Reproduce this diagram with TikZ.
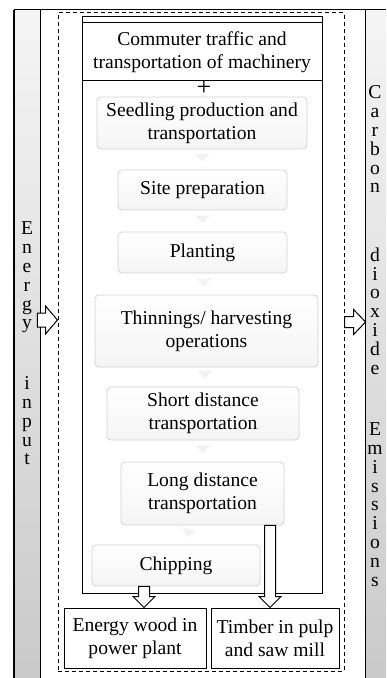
\documentclass[tikz,border=0pt]{standalone}
\usepackage{fontspec}
\setmainfont{Liberation Serif}
\usetikzlibrary{arrows.meta,calc}
\newcommand{\boxsiz}{\fontsize{9.8}{11.5}\selectfont}
\newcommand{\barsiz}{\fontsize{9.8}{9.4}\selectfont}
\newcommand{\hollowDown}[3]{% x, start, tip
    \draw[fill=white,line width=0.5pt] let \p1=(#2), \p2=(#3), \p3=(#1,0) in
        (\x3-2.75pt,\y1) -- (\x3+2.75pt,\y1) -- (\x3+2.75pt,\y2+5.5pt)
        -- (\x3+5.5pt,\y2+5.5pt) -- (\x3,\y2) -- (\x3-5.5pt,\y2+5.5pt)
        -- (\x3-2.75pt,\y2+5.5pt) -- cycle;
}
\newcommand{\hollowRight}[5]{% y, start, tip, stem half, head half
    \draw[fill=white,line width=0.5pt] let \p1=(#2), \p2=(#3), \p3=(0,#1) in
        (\x1,\y3-#4) -- (\x2-6pt,\y3-#4) -- (\x2-6pt,\y3-#5) -- (\x2,\y3)
        -- (\x2-6pt,\y3+#5) -- (\x2-6pt,\y3+#4) -- (\x1,\y3+#4) -- cycle;
}

\begin{document}
\begin{tikzpicture}[x=0.5pt,y=-0.5pt,
    stepBox/.style={draw=gray!35, rounded corners=2pt, top color=white, bottom color=gray!8,
        align=center, inner sep=0pt, font=\boxsiz},
    plainBox/.style={draw, line width=0.5pt, align=center, inner sep=0pt, font=\boxsiz},
    sideBar/.style={inner sep=0pt, top color=gray!8, bottom color=gray!42},
    barWord/.style={align=center, inner sep=0pt, font=\barsiz},
    flowArrow/.style={draw=gray!10, line width=3pt, -{Triangle[width=7pt,length=4pt]},
        shorten <=4pt, shorten >=4pt}]

    \useasboundingbox (0,0) rectangle (386,678);

    % side bars
    \node[sideBar, minimum width=13pt, minimum height=334pt] (energyBar) at (27,344) {};
    \node[sideBar, minimum width=10pt, minimum height=334pt] (co2Bar) at (376,344) {};
    \draw[line width=0.5pt] (energyBar.north west) -- (co2Bar.north east);
    \draw[line width=1pt] (energyBar.north west) -- (energyBar.south west);
    \draw[line width=0.5pt] (energyBar.north east) -- (energyBar.south east);
    \draw[line width=0.5pt] (co2Bar.north west) -- (co2Bar.south west);

    \node[barWord] (energyWord) at (27,277.5) {E\\n\\e\\r\\g\\y};
    \node[barWord] (inputWord) at (27,421) {i\\n\\p\\u\\t};
    \node[barWord] (carbonWord) at (375,139.5) {C\\a\\r\\b\\o\\n};
    \node[barWord] (dioxideWord) at (375,311) {d\\i\\o\\x\\i\\d\\e};
    \node[barWord] (emissionsWord) at (375,504.5) {E\\m\\i\\s\\s\\i\\o\\n\\s};

    % frames
    \node[draw, dash pattern=on 2pt off 1.5pt, line width=0.5pt, minimum width=143pt,
        minimum height=329pt, inner sep=0pt] (systemFrame) at (201,342) {};
    \node[draw, line width=0.5pt, minimum width=120pt, minimum height=288pt,
        inner sep=0pt] (processFrame) at (202,305) {};

    \node[plainBox, minimum width=120pt, minimum height=29pt] (commuter) at (202,52)
        {Commuter traffic and\\transportation of machinery};
    \node[font=\fontsize{13}{13}\selectfont, inner sep=0pt] (plus) at (204,88) {+};

    % process steps
    \node[stepBox, minimum width=105pt, minimum height=26pt] (seedling) at (202,123)
        {Seedling production and\\transportation};
    \node[stepBox, minimum width=84.5pt, minimum height=20pt] (site) at (202.5,190)
        {Site preparation};
    \node[stepBox, minimum width=84.5pt, minimum height=20.5pt] (planting) at (202.5,252.5)
        {Planting};
    \node[stepBox, minimum width=111.5pt, minimum height=36pt] (thinning) at (206.5,331)
        {Thinnings/ harvesting\\operations};
    \node[stepBox, minimum width=96pt, minimum height=26.5pt] (shortDist) at (203,413.5)
        {Short distance\\transportation};
    \node[stepBox, minimum width=81.5pt, minimum height=31.5pt] (longDist) at (202.5,493.5)
        {Long distance\\transportation};
    \node[stepBox, minimum width=84pt, minimum height=20.5pt] (chipping) at (176,565.5)
        {Chipping};

    \draw[flowArrow] (seedling) -- (site);
    \draw[flowArrow] (site) -- (planting);
    \draw[flowArrow] (planting) -- (thinning);
    \draw[flowArrow] (thinning) -- (shortDist);
    \draw[flowArrow] (shortDist) -- (longDist);
    \draw[flowArrow] (longDist) -- (chipping);

    % end uses
    \node[plainBox, minimum width=71pt, minimum height=30pt] (energyWood) at (135,638)
        {Energy wood in\\power plant};
    \node[plainBox, minimum width=64pt, minimum height=30pt] (timber) at (275,638)
        {Timber in pulp\\and saw mill};

    \hollowDown{144}{chipping.south}{energyWood.north}
    \hollowDown{270}{longDist.south}{timber.north}

    \hollowRight{320}{$(energyBar.east)+(-3,0)$}{systemFrame.west}{3.5pt}{7pt}
    \hollowRight{322}{systemFrame.east}{co2Bar.west}{2.75pt}{6.25pt}

\end{tikzpicture}
\end{document}
